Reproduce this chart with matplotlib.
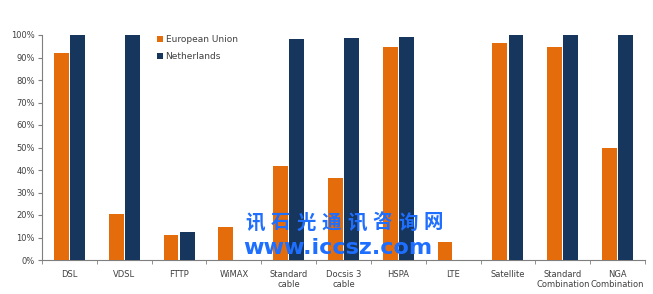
import matplotlib
matplotlib.use('Agg')
import matplotlib.pyplot as plt
import numpy as np

categories = ['DSL', 'VDSL', 'FTTP', 'WiMAX', 'Standard\ncable', 'Docsis 3\ncable',
              'HSPA', 'LTE', 'Satellite', 'Standard\nCombination', 'NGA\nCombination']
eu_values = [92, 20.5, 11, 14.8, 41.8, 36.5, 94.6, 8.1, 96.3, 94.8, 49.8]
nl_values = [100, 100, 12.6, 0, 98.3, 98.5, 99, 0, 100, 100, 100]

watermark_cn = '讯石光通讯咨询网'
watermark_url = 'www.iccsz.com'

orange = '#E46C0A'
navy = '#17365D'
grey = '#7F7F7F'
blue = '#1E6EFF'

plt.rcParams['font.family'] = ['DejaVu Sans']

fig = plt.figure(figsize=(6.53, 2.94), dpi=100)
ax = fig.add_axes([42 / 653, 34 / 294, 603 / 653, 225 / 294])

x = np.arange(len(categories))
w = 0.27
ax.bar(x - 0.148, eu_values, width=w, color=orange, label='European Union', zorder=3)
ax.bar(x + 0.148, nl_values, width=w, color=navy, label='Netherlands', zorder=3)

ax.set_xlim(-0.5, len(categories) - 0.5)
ax.set_ylim(0, 100)
ax.set_yticks(np.arange(0, 101, 10))
ax.set_yticklabels(['{}%'.format(v) for v in range(0, 101, 10)])

ax.set_xticks(x)
ax.set_xticklabels(categories)
ax.set_xticks(np.arange(-0.5, len(categories), 1), minor=True)
ax.tick_params(axis='x', which='major', length=0, labelsize=6, colors='#404040', pad=7)
ax.tick_params(axis='x', which='minor', length=3, color=grey)
ax.tick_params(axis='y', labelsize=6, colors='#404040', length=3, color=grey, pad=2)

for side in ['top', 'right']:
    ax.spines[side].set_visible(False)
for side in ['left', 'bottom']:
    ax.spines[side].set_color(grey)
    ax.spines[side].set_linewidth(0.8)

ax.legend(loc='upper left', bbox_to_anchor=(0.178, 1.035), frameon=False, fontsize=6.5,
          handlelength=0.6, handleheight=0.6, handletextpad=0.3, labelspacing=0.9,
          labelcolor='#404040')

# watermark (chinese spread out per character, url as one string)
for i, ch in enumerate(watermark_cn):
    fig.text((255 + i * 25.5) / 653, 1 - 223 / 294, ch,
             family=['Noto Sans CJK SC', 'DejaVu Sans'], fontsize=14, color=blue,
             weight='bold', va='center', ha='center')
fig.text(243 / 653, 1 - 248 / 294, watermark_url, fontsize=16, color=blue,
         weight='bold', va='center', ha='left')

fig.savefig('out.png', dpi=100)
